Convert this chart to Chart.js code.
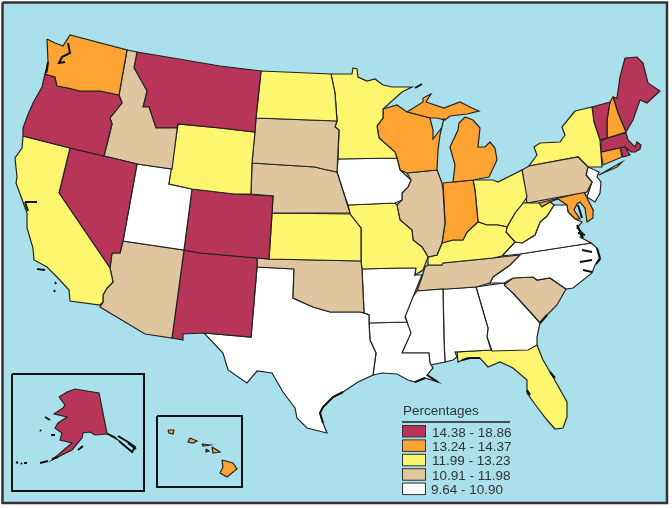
<!DOCTYPE html>
<html>
<head>
<meta charset="utf-8">
<style>
  html, body { margin: 0; padding: 0; background: #ffffff; }
  canvas { display: block; }
</style>
<script src="https://cdn.jsdelivr.net/npm/chart.js@4"></script>
</head>
<body>
<canvas id="mapChart" width="672" height="508"></canvas>
<script>
// legend classes, highest first
const legendTitle = "Percentages";
const binLabels = ["14.38 - 18.86", "13.24 - 14.37", "11.99 - 13.23", "10.91 - 11.98", "9.64 - 10.90"];
const binFloors = [14.38, 13.24, 11.99, 10.91, 9.64];
const binColors = ["#b63558", "#ffa333", "#fff66f", "#dfc69f", "#ffffff"];

// percentage per state, estimated inside the class shown on the map
const stateValues = {
  WA: 13.8, OR: 15.2, CA: 12.4, NV: 15.6, ID: 11.4, MT: 15.1, WY: 12.6, UT: 10.2, AZ: 11.5, CO: 14.9,
  NM: 15.3, ND: 12.5, SD: 11.3, NE: 11.5, KS: 12.6, OK: 11.6, TX: 10.1, MN: 12.7, IA: 10.4, MO: 12.5,
  AR: 10.5, LA: 10.3, WI: 13.9, IL: 11.6, MS: 10.2, MI_U: 13.7, MI_L: 13.7, IN: 13.6, KY: 12.3, TN: 11.4,
  AL: 10.3, OH: 12.4, WV: 12.2, VA: 10.6, NC: 10.5, SC: 11.7, GA: 10.2, FL: 12.6, PA: 11.5, NY: 12.8,
  LI: 12.8, NJ: 10.6, VT: 16.1, NH: 14.1, ME: 15.9, MA: 15.4, CT: 13.5, RI: 16.6, MD: 13.9, DE: 13.4,
  AK: 15.0, HI1: 13.7, HI2: 13.7, HI3: 13.7, HI4: 13.7, HI5: 13.7, HI6: 13.7
};

// state outlines, in picture units
const stateOutlines = {
  WA: [[47,39],[55,43],[63,46],[70,35],[127,50],[119,95],[100,91],[80,91],[68,88],[57,86],[55,77],[45,74],[48,62]],
  OR: [[45,74],[55,77],[57,86],[68,88],[80,91],[100,91],[119,95],[122,103],[110,118],[112,124],[104,156],[70,148],[23,136],[23,128],[27,117],[33,103],[42,87]],
  CA: [[23,136],[70,148],[59,193],[110,268],[113,282],[107,288],[103,295],[103,302],[100,305],[70,301],[69,290],[58,278],[47,267],[34,260],[33,248],[27,228],[27,213],[23,202],[16,183],[17,177],[15,158],[22,148]],
  NV: [[70,148],[104,156],[137,164],[123,241],[120,253],[112,253],[110,268],[59,193]],
  ID: [[127,50],[137,52],[134,68],[147,91],[143,107],[149,107],[156,128],[167,128],[177,128],[177,130],[172,169],[137,164],[104,156],[112,124],[110,118],[122,103],[119,95]],
  MT: [[137,52],[173,58],[220,66],[261,71],[256,118],[255,132],[220,128],[178,124],[177,128],[167,128],[156,128],[149,107],[143,107],[147,91],[134,68]],
  WY: [[178,124],[220,128],[255,132],[252,163],[251,194],[234,194],[192,189],[169,184]],
  UT: [[137,164],[172,169],[169,184],[192,189],[184,250],[123,241]],
  AZ: [[123,241],[184,250],[172,338],[145,334],[100,307],[103,302],[103,295],[107,288],[113,282],[110,268],[112,253],[120,253]],
  CO: [[192,189],[234,194],[273,196],[272,213],[269,259],[257,258],[200,253],[184,250]],
  NM: [[184,250],[200,253],[257,258],[257,267],[251,337],[204,333],[183,334],[183,340],[172,338]],
  ND: [[261,71],[331,74],[335,93],[337,121],[256,118]],
  SD: [[256,118],[337,121],[335,127],[339,130],[337,172],[323,169],[315,167],[252,163]],
  NE: [[252,163],[315,167],[323,169],[337,172],[345,197],[350,213],[272,213],[273,196],[251,194]],
  KS: [[272,213],[350,214],[357,223],[361,228],[361,261],[269,259]],
  OK: [[257,258],[269,259],[361,261],[362,269],[364,313],[360,312],[340,312],[330,312],[313,307],[293,298],[294,269],[257,267]],
  TX: [[257,267],[294,269],[293,298],[313,307],[330,312],[340,312],[360,312],[364,313],[369,315],[369,323],[370,340],[376,353],[373,375],[358,382],[343,392],[333,397],[323,407],[320,413],[323,423],[327,433],[307,428],[297,418],[295,408],[283,392],[272,373],[257,371],[247,383],[228,370],[223,353],[204,333],[251,337]],
  MN: [[331,74],[352,74],[353,68],[357,69],[358,77],[367,81],[375,79],[383,85],[392,87],[412,87],[402,92],[383,109],[383,118],[377,126],[379,138],[395,152],[397,158],[338,159],[339,130],[335,127],[337,121],[335,93]],
  IA: [[338,159],[397,158],[400,170],[411,180],[408,187],[402,193],[402,200],[395,203],[348,205],[345,197],[337,172]],
  MO: [[348,205],[395,203],[397,205],[400,220],[412,230],[413,240],[422,247],[428,257],[423,270],[415,275],[416,268],[400,268],[362,269],[361,261],[361,228],[357,223],[350,214]],
  AR: [[362,269],[400,268],[416,268],[415,275],[422,275],[413,297],[405,317],[407,322],[369,323],[369,315],[364,313]],
  LA: [[369,323],[407,322],[411,333],[402,353],[429,353],[430,363],[433,368],[427,375],[438,382],[425,378],[415,382],[408,380],[397,374],[382,373],[373,375],[376,353],[370,340]],
  WI: [[383,109],[397,105],[407,112],[430,118],[433,130],[433,139],[440,130],[442,127],[444,118],[440,135],[438,150],[437,170],[407,173],[400,170],[397,158],[395,152],[379,138],[377,126],[383,118]],
  IL: [[407,173],[437,170],[442,183],[443,190],[445,223],[442,243],[437,255],[428,257],[422,247],[413,240],[412,230],[400,220],[397,205],[402,200],[402,193],[408,187],[411,180]],
  MS: [[417,291],[443,289],[444,340],[445,362],[430,365],[429,353],[402,353],[410,333],[405,315],[407,305]],
  MI_U: [[407,112],[423,102],[423,98],[431,94],[426,102],[444,108],[460,102],[472,108],[479,111],[467,114],[450,116],[445,120],[437,118],[430,118]],
  MI_L: [[465,117],[473,120],[480,128],[478,147],[485,147],[490,142],[495,148],[497,160],[489,177],[473,180],[453,182],[455,165],[450,147],[458,130],[459,123]],
  IN: [[443,183],[453,182],[473,180],[475,190],[478,222],[467,232],[463,240],[453,240],[442,243],[445,223]],
  KY: [[442,243],[453,240],[463,240],[467,232],[478,222],[487,225],[498,225],[507,227],[506,232],[515,242],[502,256],[493,258],[443,263],[442,265],[428,265],[428,257],[437,255]],
  TN: [[428,265],[442,265],[443,263],[493,258],[520,255],[510,265],[493,277],[490,283],[476,287],[417,291],[422,277],[425,267]],
  AL: [[443,289],[476,287],[488,328],[487,337],[491,350],[455,352],[457,357],[453,360],[445,362],[444,340]],
  OH: [[473,180],[493,180],[498,182],[522,170],[527,197],[523,203],[515,213],[507,227],[498,225],[487,225],[478,222],[475,190]],
  WV: [[527,203],[539,203],[542,207],[550,202],[554,205],[547,216],[540,222],[535,235],[522,243],[515,242],[506,232],[507,227],[515,213],[523,203]],
  VA: [[502,256],[515,242],[522,243],[535,235],[540,222],[547,216],[554,205],[567,205],[568,212],[575,219],[582,222],[577,228],[583,233],[580,237],[591,243],[520,254]],
  NC: [[520,254],[591,243],[597,248],[600,260],[595,265],[592,273],[573,288],[566,289],[550,278],[537,280],[533,277],[513,278],[504,283],[490,283],[493,277],[510,265]],
  SC: [[504,285],[513,278],[533,277],[537,280],[550,278],[566,289],[557,305],[547,315],[540,323],[533,315],[513,293]],
  GA: [[476,287],[504,283],[513,293],[533,315],[540,323],[537,337],[537,345],[528,350],[492,351],[487,337],[488,328]],
  FL: [[457,352],[492,350],[528,349],[537,345],[543,360],[553,377],[567,402],[567,417],[563,428],[555,429],[547,420],[537,407],[527,393],[527,380],[513,368],[500,362],[488,367],[480,358],[467,358],[458,362]],
  PA: [[522,170],[529,166],[578,157],[588,167],[586,175],[592,182],[587,192],[527,203]],
  NY: [[575,111],[592,107],[594,122],[600,140],[602,167],[588,167],[578,157],[529,166],[537,155],[534,147],[540,143],[560,142],[565,135],[562,127]],
  LI: [[599,175],[613,167],[622,162],[617,167],[603,173]],
  NJ: [[588,167],[599,172],[597,177],[601,182],[600,193],[595,202],[587,197],[592,182],[586,175]],
  VT: [[592,107],[610,102],[607,120],[607,138],[600,140],[594,122]],
  NH: [[610,102],[613,97],[618,113],[626,132],[607,138],[607,120]],
  ME: [[613,97],[617,98],[620,77],[625,58],[637,57],[643,63],[648,83],[660,91],[647,103],[640,100],[633,120],[626,132],[618,113]],
  MA: [[601,141],[607,138],[626,133],[628,140],[635,147],[637,142],[641,145],[640,149],[635,152],[631,152],[625,147],[601,152]],
  CT: [[601,152],[620,147],[622,157],[603,165]],
  RI: [[620,147],[625,147],[630,155],[623,157]],
  MD: [[539,203],[584,192],[593,210],[593,218],[587,222],[585,208],[580,202],[577,204],[574,210],[580,219],[575,219],[568,212],[567,205],[558,199],[550,202],[542,207]],
  DE: [[584,192],[590,205],[593,210],[587,208]],
  AK: [[59,397],[67,392],[75,389],[99,393],[107,433],[115,437],[118,440],[107,434],[95,435],[90,432],[83,433],[82,438],[72,450],[52,460],[72,443],[60,440],[62,433],[55,428],[58,423],[67,417],[54,414],[63,408],[65,405]],
  HI1: [[222,460],[233,463],[237,469],[227,477],[220,473],[223,467]],
  HI2: [[212,447],[220,452],[213,453]],
  HI3: [[190,438],[197,441],[193,443],[188,442]],
  HI4: [[168,430],[174,430],[173,434],[169,433]],
  HI5: [[202,444],[210,445],[203,446]],
  HI6: [[206,449],[209,451],[206,452]]
};

// small black coast detail: sounds, barrier islands, panhandle
const coastDetails = [
  [[68,43],[70,53],[62,57],[59,63],[65,62]], [[48,62],[47,70],[46,73]],
  [[25,202],[37,202]], [[25,202],[28,211]], [[37,269],[45,270]], [[55,282],[56,284]], [[54,290],[55,292]],
  [[415,88],[422,84]],
  [[118,436],[128,442],[135,447],[132,452],[125,446],[119,441]], [[128,443],[136,449]],
  [[40,463],[48,461]], [[52,459],[58,457]], [[16,462],[18,463]], [[21,463],[22,464]], [[24,463],[27,463]],
  [[45,417],[50,420]], [[40,430],[41,431]], [[51,435],[55,435]], [[78,450],[83,446]],
  [[578,205],[582,218]], [[577,225],[583,238]],
  [[578,233],[585,235]], [[582,250],[592,252]], [[580,262],[592,260]], [[583,270],[592,272]], [[597,248],[600,258],[596,264]],
  [[415,382],[425,378]], [[427,375],[438,382]],
  [[343,392],[333,397],[323,407],[320,413],[323,423]],
  [[540,323],[547,315]], [[462,360],[470,358],[480,358]], [[550,372],[555,378]], [[527,390],[530,395]]
];

// outer page frame and the two inset frames
const frameOutlines = [
  [[12,374],[144,374],[144,491],[12,491]],
  [[157,416],[242,416],[242,487],[157,487]]
];
const pageFrame = [[2.5,2.5],[667,2.5],[667,503],[2.5,503]];
const seaColor = "#a9e0ec";

const toPoints = (ring) => ring.map(([x, y]) => ({ x, y }));
const closed = (ring) => toPoints(ring.concat([ring[0]]));

function binColor(value) {
  const i = binFloors.findIndex((f) => value >= f);
  return binColors[i];
}

const datasets = [];
// Chart.js paints the first dataset last, so details go first and the sea last
coastDetails.forEach((ring) => datasets.push({
  data: toPoints(ring), showLine: true, fill: false, borderColor: "#111", borderWidth: 2, pointRadius: 0
}));
frameOutlines.forEach((ring) => datasets.push({
  data: closed(ring), showLine: true, fill: false, borderColor: "#111", borderWidth: 2, pointRadius: 0
}));
Object.keys(stateOutlines).forEach((key) => datasets.push({
  label: key,
  data: closed(stateOutlines[key]),
  showLine: true,
  fill: "shape",
  backgroundColor: binColor(stateValues[key]),
  borderColor: "#222",
  borderWidth: 1.2,
  pointRadius: 0
}));
datasets.push({
  data: closed(pageFrame), showLine: true, fill: "shape", backgroundColor: seaColor,
  borderColor: "#333", borderWidth: 2.5, pointRadius: 0
});

// legend text and swatches
const legendPlugin = {
  id: "mapLegend",
  afterDraw(chart) {
    const { ctx, scales } = chart;
    const px = (v) => scales.x.getPixelForValue(v);
    const py = (v) => scales.y.getPixelForValue(v);
    ctx.save();
    ctx.fillStyle = "#333";
    ctx.font = "13.5px 'Liberation Sans'";
    ctx.textBaseline = "alphabetic";
    ctx.fillText(legendTitle, px(403), py(415));
    ctx.strokeStyle = "#222";
    ctx.lineWidth = 1.5;
    ctx.beginPath();
    ctx.moveTo(px(402), py(422));
    ctx.lineTo(px(510), py(422));
    ctx.stroke();
    binLabels.forEach((label, i) => {
      const top = 425.5 + i * 14.4;
      ctx.fillStyle = binColors[i];
      ctx.fillRect(px(402.5), py(top), 23, 11.5);
      ctx.lineWidth = 1;
      ctx.strokeStyle = "#333";
      ctx.strokeRect(px(402.5), py(top), 23, 11.5);
      ctx.fillStyle = "#333";
      ctx.fillText(label, px(i === 4 ? 431 : 432), py(top + 11));
    });
    ctx.restore();
  }
};

new Chart(document.getElementById("mapChart").getContext("2d"), {
  type: "scatter",
  data: { datasets },
  options: {
    responsive: false,
    animation: false,
    devicePixelRatio: 1,
    layout: { padding: 0 },
    elements: { line: { tension: 0 } },
    scales: {
      x: { type: "linear", min: 0, max: 672, display: false },
      y: { type: "linear", min: 0, max: 508, reverse: true, display: false }
    },
    plugins: { legend: { display: false }, tooltip: { enabled: false } }
  },
  plugins: [legendPlugin]
});
</script>
</body>
</html>
